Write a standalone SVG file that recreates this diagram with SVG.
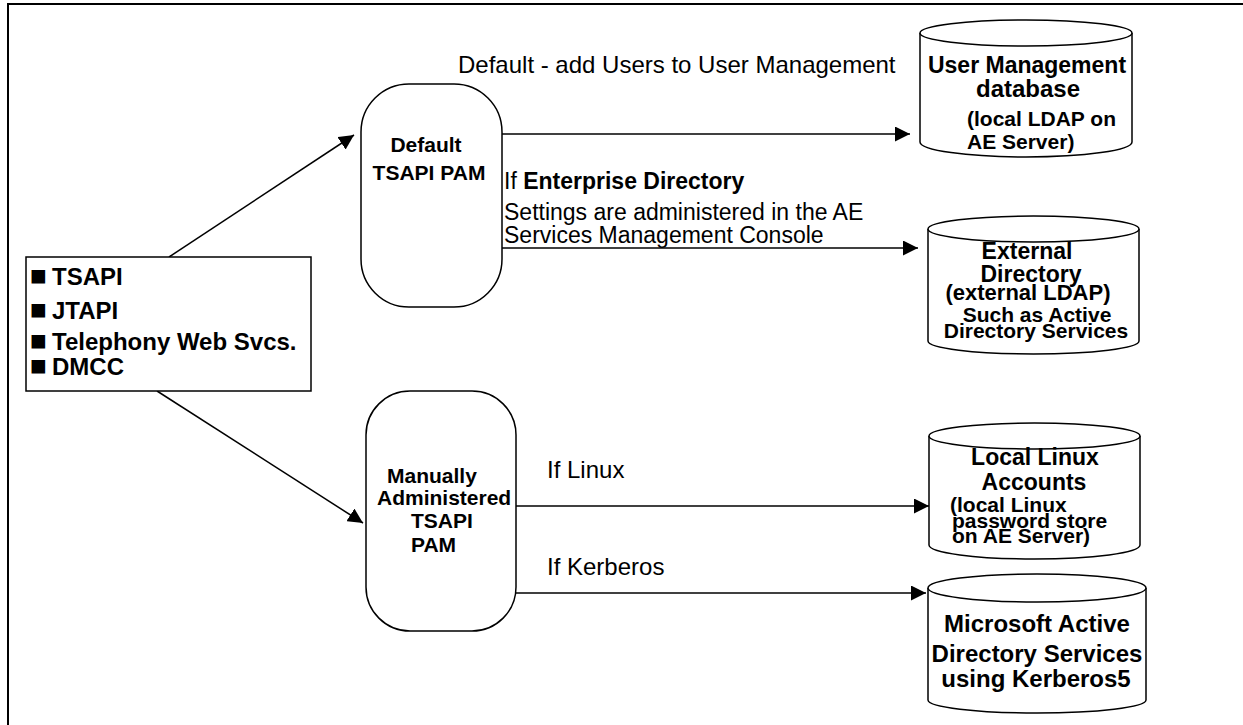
<svg xmlns="http://www.w3.org/2000/svg" width="1243" height="725" viewBox="0 0 1243 725">
<defs>
<marker id="ah" viewBox="0 0 10 10" refX="10" refY="5" markerWidth="15" markerHeight="15" markerUnits="userSpaceOnUse" orient="auto">
<path d="M0,0 L10,5 L0,10 Z" fill="#000"/>
</marker>
<style>
text{font-family:"Liberation Sans",Arial,sans-serif;fill:#000}
.b{font-weight:bold}
.lbl{font-size:24px}
.pam{font-size:21px;font-weight:bold;text-anchor:middle}
.pams{font-size:21px;font-weight:bold}
.cyl{fill:#fff;stroke:#000;stroke-width:1.5}
.c24{font-size:24px;font-weight:bold;text-anchor:middle}
.c23{font-size:23px;font-weight:bold;text-anchor:middle}
.c21{font-size:21px;font-weight:bold}
.c21m{font-size:21px;font-weight:bold;text-anchor:middle}
.edge{stroke:#000;stroke-width:1.5;fill:none;marker-end:url(#ah)}
.box{fill:#fff;stroke:#000;stroke-width:1.5}
.api{font-size:24px;font-weight:bold}
.bul{font-size:28px}
</style>
</defs>
<rect width="1243" height="725" fill="#fff"/>
<path d="M8,725 V4 H1243" fill="none" stroke="#000" stroke-width="2"/>

<g id="connectors">
<line class="edge" x1="169" y1="257" x2="354" y2="135"/>
<line class="edge" x1="157" y1="391" x2="363" y2="523"/>
<line class="edge" x1="502" y1="134" x2="910" y2="134"/>
<line class="edge" x1="502" y1="248" x2="918" y2="248"/>
<line class="edge" x1="516" y1="506" x2="929" y2="506"/>
<line class="edge" x1="516" y1="593" x2="926" y2="593"/>
<text class="lbl" x="458" y="73">Default - add Users to User Management</text>
<text class="lbl" x="504" y="189" style="font-size:23px">If <tspan class="b">Enterprise Directory</tspan></text>
<text class="lbl" x="504" y="220" style="font-size:23px">Settings are administered in the AE</text>
<text class="lbl" x="504" y="243" style="font-size:23px">Services Management Console</text>
<text class="lbl" x="547" y="478">If Linux</text>
<text class="lbl" x="547" y="575">If Kerberos</text>
</g>

<g id="apis">
<rect class="box" x="26" y="257" width="285" height="134"/>
<text class="api" y="285"><tspan class="bul" x="30">■</tspan><tspan x="52">TSAPI</tspan></text>
<text class="api" y="319"><tspan class="bul" x="30">■</tspan><tspan x="52">JTAPI</tspan></text>
<text class="api" y="350"><tspan class="bul" x="30">■</tspan><tspan x="52">Telephony Web Svcs.</tspan></text>
<text class="api" y="375"><tspan class="bul" x="30">■</tspan><tspan x="52">DMCC</tspan></text>
</g>

<g id="default-pam">
<rect class="box" x="361" y="84" width="141" height="223" rx="48" ry="48"/>
<text class="pam" x="426" y="152">Default</text>
<text class="pam" x="429" y="180">TSAPI PAM</text>
</g>

<g id="manual-pam">
<rect class="box" x="366" y="391" width="150" height="240" rx="44" ry="44"/>
<text class="pams" x="387" y="483">Manually</text>
<text class="pams" x="377" y="505">Administered</text>
<text class="pams" x="411" y="528">TSAPI</text>
<text class="pams" x="411" y="552">PAM</text>
</g>

<g id="user-mgmt-db">
<path class="cyl" d="M920,33 V142 A106,15 0 0 0 1132,142 V33"/>
<ellipse class="cyl" cx="1026" cy="33" rx="106" ry="13"/>
<text class="c23" x="1027" y="73">User Management</text>
<text class="c24" x="1028" y="97">database</text>
<text class="c21" x="967" y="126">(local LDAP on</text>
<text class="c21" x="967" y="149">AE Server)</text>
</g>

<g id="external-directory">
<path class="cyl" d="M928,229 V341 A105.5,13 0 0 0 1139,341 V229"/>
<ellipse class="cyl" cx="1033.5" cy="229" rx="105.5" ry="13"/>
<text class="c23" x="1027" y="259">External</text>
<text class="c23" x="1031" y="282">Directory</text>
<text class="c21m" x="1028" y="300" style="font-size:22px">(external LDAP)</text>
<text class="c21m" x="1037" y="322">Such as Active</text>
<text class="c21m" x="1036" y="338">Directory Services</text>
</g>

<g id="local-linux">
<path class="cyl" d="M929,436 V545 A105.5,14 0 0 0 1140,545 V436"/>
<ellipse class="cyl" cx="1034.5" cy="436" rx="105.5" ry="13"/>
<text class="c23" x="1035" y="465">Local Linux</text>
<text class="c23" x="1034" y="490">Accounts</text>
<text class="c21" x="950" y="512">(local Linux</text>
<text class="c21" x="952" y="528">password store</text>
<text class="c21" x="952" y="543">on AE Server)</text>
</g>

<g id="ms-ad">
<path class="cyl" d="M928,588 V700 A109,13 0 0 0 1146,700 V588"/>
<ellipse class="cyl" cx="1037" cy="588" rx="109" ry="14"/>
<text class="c24" x="1037" y="632">Microsoft Active</text>
<text class="c24" x="1037" y="662">Directory Services</text>
<text class="c24" x="1036" y="687">using Kerberos5</text>
</g>
</svg>
